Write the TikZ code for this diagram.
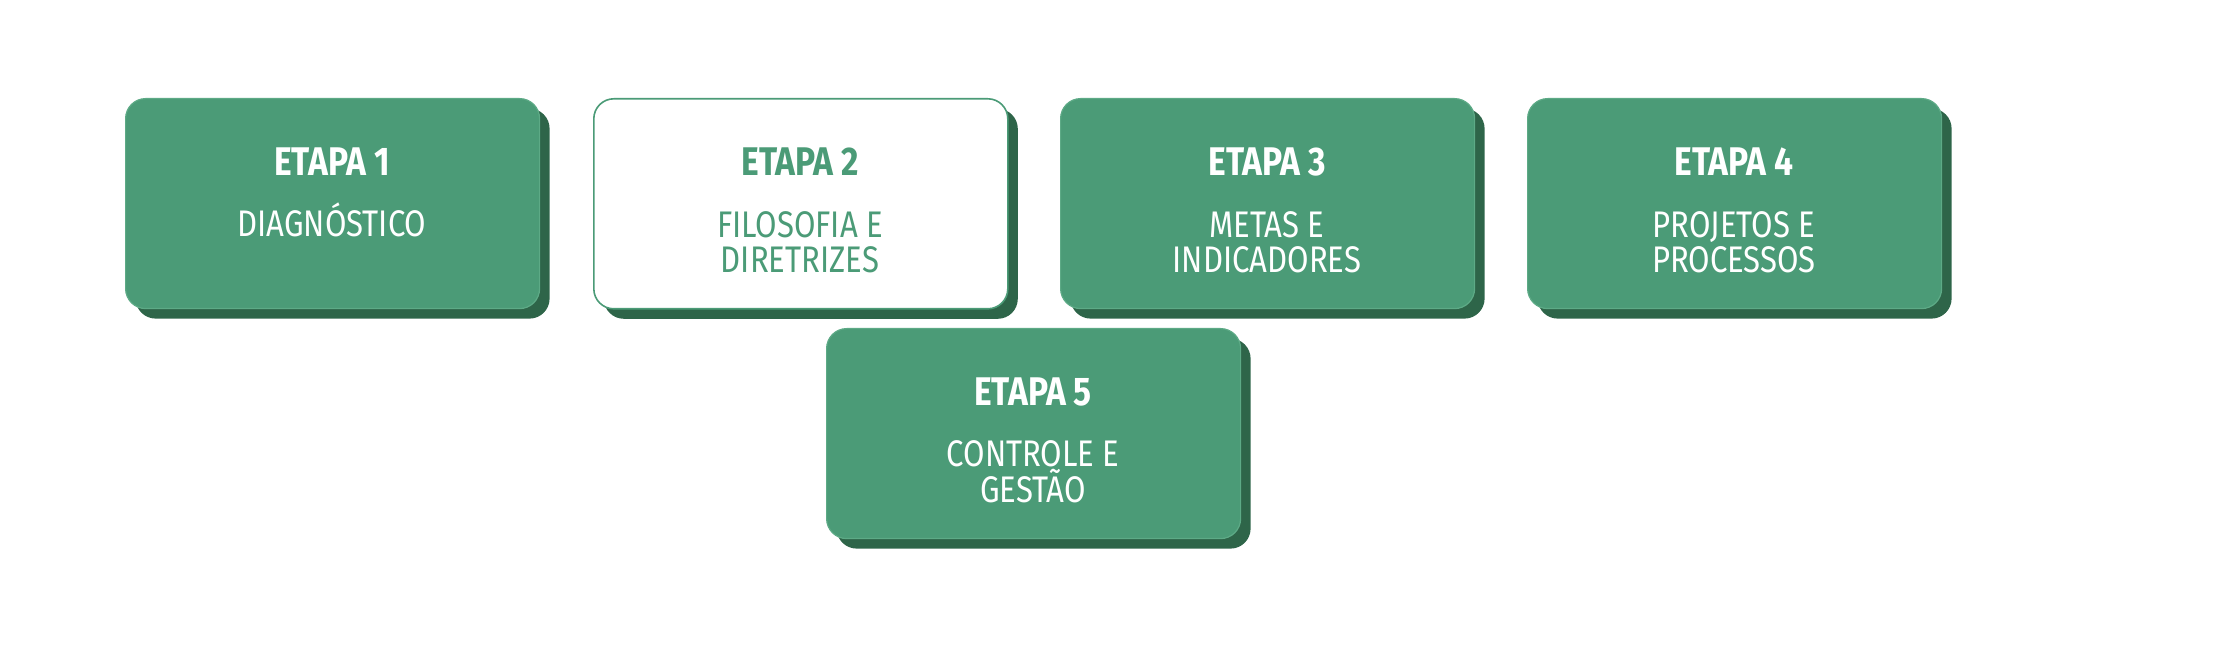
\documentclass[tikz,border=0pt]{standalone}
\usepackage{fontspec}
\setmainfont{Fira Sans}[FakeStretch=0.84]
\usetikzlibrary{shadows}
\definecolor{boxgreen}{HTML}{4B9B77}
\definecolor{shadowgreen}{HTML}{2E6549}
\definecolor{edgegreen}{HTML}{5DAA86}
\tikzset{
  stagebox/.style={draw=edgegreen, line width=0.6pt, fill=boxgreen, rounded corners=10pt,
    minimum width=207pt, minimum height=105pt, inner sep=0pt, anchor=north west,
    drop shadow={shadow xshift=5pt, shadow yshift=-5pt, fill=shadowgreen, opacity=1, rounded corners=10pt}},
  whitebox/.style={stagebox, fill=white, draw=boxgreen, line width=0.8pt},
  stagetitle/.style={anchor=base, inner sep=0pt, text=white, font=\fontsize{20pt}{22pt}\selectfont\bfseries},
  stagetext/.style={anchor=base, inner sep=0pt, text=white, align=center,
    font=\fontsize{18.5pt}{18.5pt}\selectfont},
}
\begin{document}
\begin{tikzpicture}[x=0.5pt, y=-0.5pt]
\useasboundingbox (0,0) rectangle (2216,672);
% boxes
\node[stagebox] (b1) at (125,98) {};
\node[whitebox] (b2) at (593,98) {};
\node[stagebox] (b3) at (1060,98) {};
\node[stagebox] (b4) at (1527,98) {};
\node[stagebox] (b5) at (826,328) {};
% texts
\node[stagetitle] (t1) at (332,176) {ETAPA 1};
\node[stagetext] (d1) at (332,237) {DIAGNÓSTICO};
\node[stagetitle, text=boxgreen] (t2) at (800,176) {ETAPA 2};
\node[stagetext, text=boxgreen] (d2a) at (800,238) {FILOSOFIA E};
\node[stagetext, text=boxgreen] (d2b) at (800,273) {DIRETRIZES};
\node[stagetitle] (t3) at (1267,176) {ETAPA 3};
\node[stagetext] (d3a) at (1267,238) {METAS E};
\node[stagetext] (d3b) at (1267,273) {INDICADORES};
\node[stagetitle] (t4) at (1734,176) {ETAPA 4};
\node[stagetext] (d4a) at (1734,238) {PROJETOS E};
\node[stagetext] (d4b) at (1734,273) {PROCESSOS};
\node[stagetitle] (t5) at (1033,406) {ETAPA 5};
\node[stagetext] (d5a) at (1033,467) {CONTROLE E};
\node[stagetext] (d5b) at (1033,503) {GESTÃO};
\end{tikzpicture}
\end{document}
